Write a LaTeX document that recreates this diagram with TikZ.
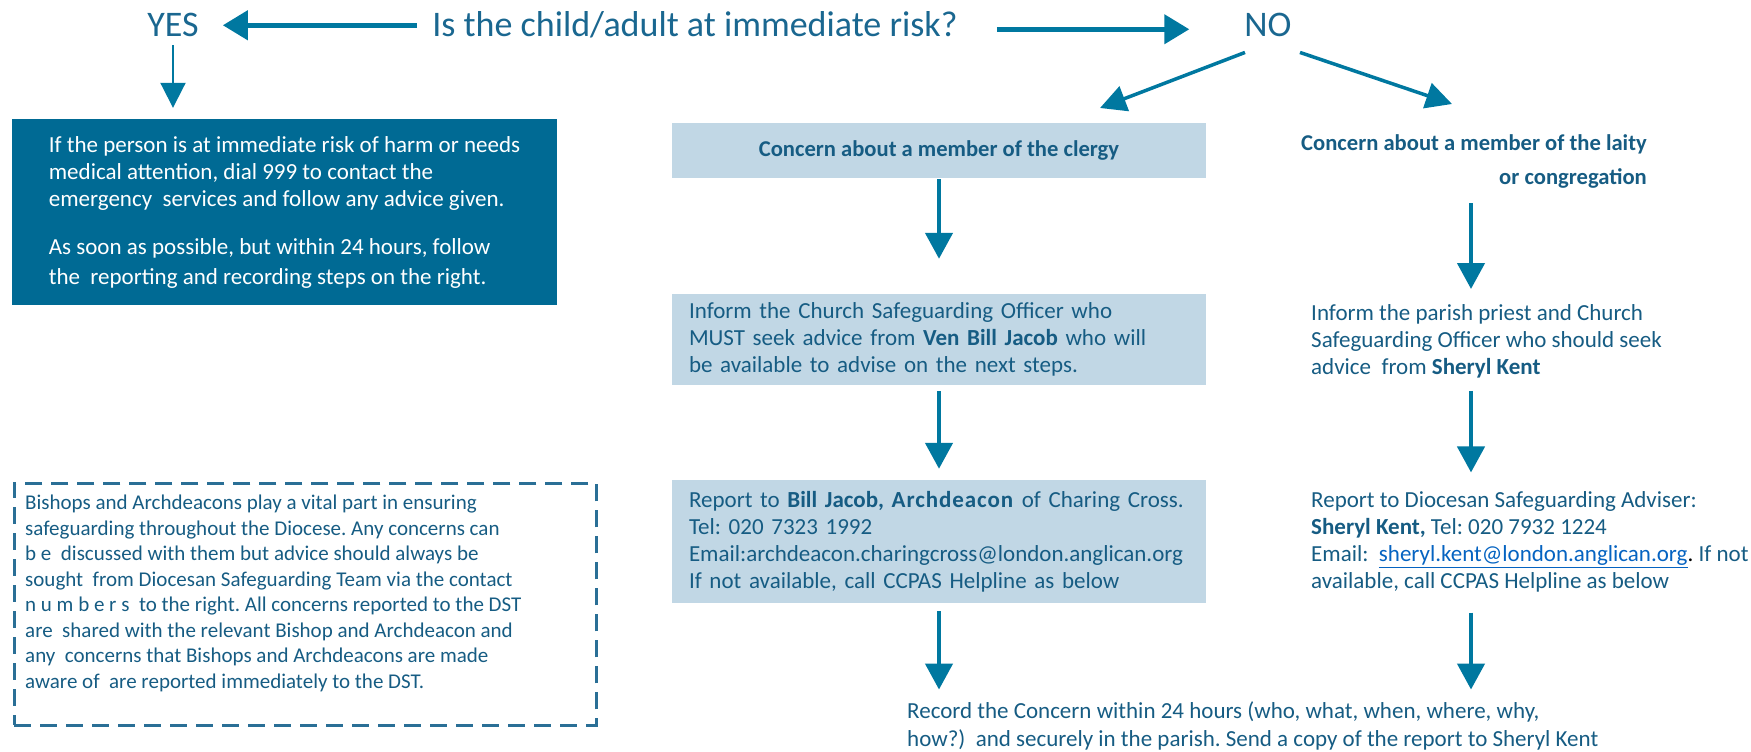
\documentclass[tikz,border=0pt]{standalone}
\usepackage{fontspec}
\setmainfont{Carlito}
\usepackage{xcolor}
\usetikzlibrary{arrows.meta, positioning}

\definecolor{riskblue}{HTML}{006A94}
\definecolor{paleblue}{HTML}{C1D7E5}
\definecolor{inkblue}{HTML}{165C83}
\definecolor{topblue}{HTML}{1A6790}
\definecolor{arrowblue}{HTML}{0078A0}
\definecolor{dashblue}{HTML}{2A6F96}
\definecolor{linkblue}{HTML}{0563C1}

\frenchspacing

\begin{document}
\begin{tikzpicture}[x=1pt,y=-1pt,
    toptext/.style={font=\fontsize{36}{40}\selectfont, text=topblue, inner sep=0pt, anchor=base},
    bodytext/.style={font=\fontsize{23}{27}\selectfont, text=inkblue, inner sep=0pt, align=left},
    riskbox/.style={fill=riskblue, text=white, font=\fontsize{23}{27}\selectfont, align=left,
      minimum width=545pt, minimum height=186pt, inner xsep=35pt},
    headbox/.style={fill=paleblue, text=inkblue, font=\bfseries\fontsize{22.6}{27}\selectfont,
      minimum width=534pt, minimum height=55pt},
    stepbox/.style={fill=paleblue, text=inkblue, font=\fontsize{23}{27}\selectfont, align=left,
      inner xsep=17pt, text width=500pt},
    notebox/.style={draw=dashblue, line width=2.5pt, dash pattern=on 17pt off 9pt},
    flow/.style={draw=arrowblue, line width=4.5pt, -{Triangle[width=27pt,length=26pt]}},
    flowtop/.style={draw=arrowblue, line width=4.5pt, -{Triangle[width=29pt,length=25pt]}},
    flowslant/.style={draw=arrowblue, line width=3.5pt, -{Triangle[width=26pt,length=26pt]}},
    flowthin/.style={draw=arrowblue, line width=2pt, -{Triangle[width=25pt,length=25pt]}}]

  \useasboundingbox (0,0) rectangle (1751,752);

  % question line
  \node[toptext] (question) at (695,37) {Is the child/adult at immediate risk?};
  \node[toptext] (yes) at (173,37) {YES};
  \node[toptext] (no) at (1268,37) {NO};

  \draw[flowtop, shorten <=15pt, shorten >=24pt] (question.west) -- (question.west -| yes.east);
  \draw[flowtop, shorten <=39pt, shorten >=55pt] ([yshift=-4pt]question.east) -- ([yshift=-4pt]question.east -| no.west);

  % yes branch
  \node[riskbox] (risk) at (284.5,212) {If the person is at immediate risk of harm or needs\\
    medical attention, dial 999 to contact the\\
    emergency~ services and follow any advice given.\\[21pt]
    As soon as possible, but within 24 hours, follow\\[3pt]
    the~ reporting and recording steps on the right.};
  \draw[flowthin, shorten <=8pt, shorten >=11pt] (yes.south) -- (yes.south |- risk.north);

  % no branch
  \coordinate (noleft) at (1100,108);
  \coordinate (noright) at (1452,104);
  \draw[flowslant] ([xshift=-23pt,yshift=-15pt]no.south) -- (noleft);
  \draw[flowslant] ([xshift=32pt,yshift=-15pt]no.south) -- (noright);

  % clergy column
  \node[headbox] (clergy) at (939,150.5) {Concern about a member of the clergy};
  \node[stepbox, minimum height=91pt] (clergyinfo) at (939,339.5) {Inform the Church Safeguarding Officer who\\
    MUST seek advice from \textbf{Ven Bill Jacob} who will\\
    be available to advise on the next steps.};
  \node[stepbox, minimum height=123pt] (clergyreport) at (939,541.5) {Report to \textbf{Bill Jacob, {\addfontfeature{LetterSpace=4}Archdeacon}} of Charing Cross.\\
    Tel: 020 7323 1992\\
    Email:archdeacon.charingcross@london.anglican.org\\
    If not available, call CCPAS Helpline as below};

  \draw[flow, shorten <=1pt, shorten >=35pt] (clergy.south) -- (clergyinfo.north);
  \draw[flow, shorten <=6pt, shorten >=11pt] (clergyinfo.south) -- (clergyreport.north);

  % laity column
  \coordinate (lx) at (1471,0);
  \node[bodytext, font=\bfseries\fontsize{22.6}{27}\selectfont, align=right, anchor=east] (laity) at (1647,161)
    {Concern about a member of the laity\\[7pt] or congregation};
  \node[bodytext, anchor=west] (laityinfo) at (1311,341) {Inform the parish priest and Church\\
    Safeguarding Officer who should seek\\
    advice~ from \textbf{Sheryl Kent}};
  \node[bodytext, anchor=west] (laityreport) at (1311,542) {Report to Diocesan Safeguarding Adviser:\\
    \textbf{Sheryl Kent,} Tel: 020 7932 1224\\
    Email:~ \textcolor{linkblue}{\underline{sheryl.kent@london.anglican.org}}\textcolor{black}{.} If not\\
    available, call CCPAS Helpline as below};

  \draw[flow, shorten <=15pt, shorten >=15pt] (laity.south -| lx) -- (laityinfo.north -| lx);
  \draw[flow, shorten <=13pt, shorten >=19pt] (laityinfo.south -| lx) -- (laityreport.north -| lx);

  % recording step
  \node[bodytext, font=\fontsize{23}{28}\selectfont, anchor=west] (record) at (907,726)
    {Record the Concern within 24 hours (who, what, when, where, why,\\
    how?)~ and securely in the parish. Send a copy of the report to Sheryl Kent};
  \draw[flow, shorten <=8pt, shorten >=12pt] (clergyreport.south) -- (clergyreport.south |- record.north);
  \draw[flow, shorten <=20pt, shorten >=12pt] (laityreport.south -| lx) -- (record.north -| lx);

  % note on bishops
  \node[notebox, anchor=north west, minimum width=582pt, minimum height=242pt] (note) at (13,482) {};
  \node[bodytext, font=\fontsize{21}{25.5}\selectfont, anchor=north west] (notetext) at (25,495)
    {Bishops and Archdeacons play a vital part in ensuring\\
    safeguarding throughout the Diocese. Any concerns can\\
    b e~ discussed with them but advice should always be\\
    sought~ from Diocesan Safeguarding Team via the contact\\
    n u m b e r s~ to the right. All concerns reported to the DST\\
    are~ shared with the relevant Bishop and Archdeacon and\\
    any~ concerns that Bishops and Archdeacons are made\\
    aware of~ are reported immediately to the DST.};

\end{tikzpicture}
\end{document}
